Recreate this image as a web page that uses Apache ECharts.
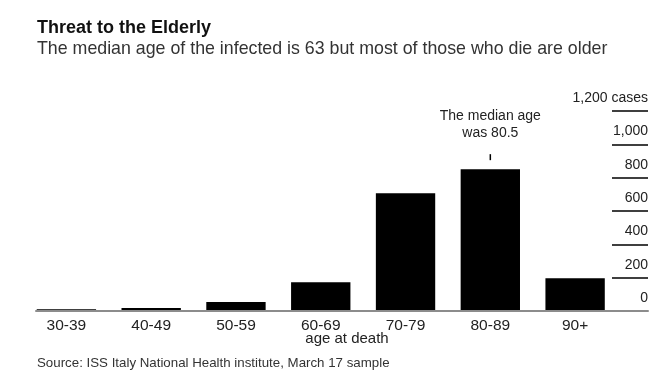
<!DOCTYPE html>
<html>
<head>
<meta charset="utf-8">
<script src="https://cdn.jsdelivr.net/npm/echarts@6/dist/echarts.min.js"></script>
<style>
html,body{margin:0;padding:0;background:#fff;}
#chart{width:661px;height:383px;}
</style>
</head>
<body>
<div id="chart"></div>
<script>
const categories = ['30-39', '40-49', '50-59', '60-69', '70-79', '80-89', '90+'];
const deaths = [10, 18, 54, 173, 707, 851, 197];
const yTicks = [0, 200, 400, 600, 800, 1000, 1200];
const annotationCategory = '80-89';
const annotationText = 'The median age\nwas 80.5';
const titleText = 'Threat to the Elderly';
const subtitleText = 'The median age of the infected is 63 but most of those who die are older';
const sourceText = 'Source: ISS Italy National Health institute, March 17 sample';
const xName = 'age at death';

const FONT = '"Liberation Sans", Arial, sans-serif';
const chart = echarts.init(document.getElementById('chart'), null, {renderer: 'canvas'});
const annIdx = categories.indexOf(annotationCategory);

chart.setOption({
  animation: false,
  backgroundColor: '#fff',
  textStyle: {fontFamily: FONT},
  grid: [
    {left: 24, right: 43.5, top: 111, bottom: 72},
    {left: 36, right: 13, top: 111, bottom: 72}
  ],
  xAxis: [
    {
      type: 'category', gridIndex: 0, data: categories,
      axisLine: {show: false}, axisTick: {show: false},
      axisLabel: {fontSize: 15.5, color: '#222', margin: 7, fontFamily: FONT}
    },
    {
      type: 'value', gridIndex: 1, min: 0, max: 1, z: 10,
      axisLine: {show: true, lineStyle: {color: '#8c8c8c', width: 2}},
      axisTick: {show: false}, axisLabel: {show: false}, splitLine: {show: false}
    }
  ],
  yAxis: [
    {type: 'value', gridIndex: 0, min: yTicks[0], max: yTicks[yTicks.length - 1], show: false},
    {
      type: 'value', gridIndex: 1, position: 'right',
      min: yTicks[0], max: yTicks[yTicks.length - 1], interval: yTicks[1] - yTicks[0],
      axisLine: {show: false, onZero: false},
      axisTick: {show: true, inside: true, length: 36, lineStyle: {color: '#000', width: 1.5}},
      splitLine: {show: false},
      axisLabel: {
        inside: true, margin: 0, fontSize: 14, color: '#222', fontFamily: FONT,
        verticalAlign: 'bottom', padding: [0, 0, 6, 0],
        formatter: function (v) {
          const s = v.toLocaleString('en-US');
          return v === yTicks[yTicks.length - 1] ? s + ' cases' : s;
        }
      }
    }
  ],
  series: [{
    type: 'bar', xAxisIndex: 0, yAxisIndex: 0,
    data: deaths,
    barCategoryGap: '30%',
    itemStyle: {color: '#000'},
    markPoint: {
      silent: true,
      data: [{
        coord: [annotationCategory, deaths[annIdx]],
        symbol: 'rect', symbolSize: [1.5, 6], symbolOffset: [0, -12],
        itemStyle: {color: '#000'},
        label: {
          show: true, position: 'top', distance: 13,
          formatter: annotationText, fontSize: 14, lineHeight: 17,
          color: '#222', align: 'center', fontFamily: FONT
        }
      }]
    }
  }],
  graphic: [
    {type: 'text', left: 37, top: 19, style: {text: titleText, font: 'bold 18px ' + FONT, fill: '#111'}},
    {type: 'text', left: 37, top: 40, style: {text: subtitleText, font: '17.8px ' + FONT, fill: '#333'}},
    {type: 'text', left: 37, top: 357, style: {text: sourceText, font: '13.3px ' + FONT, fill: '#333'}},
    {type: 'text', x: 347, y: 331, style: {text: xName, font: '15px ' + FONT, fill: '#222', textAlign: 'center'}}
  ]
});
</script>
</body>
</html>
